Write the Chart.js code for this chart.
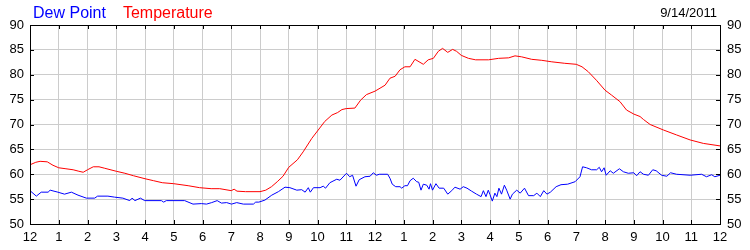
<!DOCTYPE html>
<html>
<head>
<meta charset="utf-8">
<script src="https://cdn.jsdelivr.net/npm/chart.js@4/dist/chart.umd.min.js"></script>
<style>
  html, body { margin: 0; padding: 0; background: #fff; }
  #wrap { width: 750px; height: 250px; }
</style>
</head>
<body>
<div id="wrap"><canvas id="myChart" width="750" height="250"></canvas></div>
<script>
var chartDate = '9/14/2011';
var hourLabels = ['12','1','2','3','4','5','6','7','8','9','10','11','12','1','2','3','4','5','6','7','8','9','10','11','12'];
var yTicks = [50, 55, 60, 65, 70, 75, 80, 85, 90];

var tempHours = [0, 0.2, 0.35, 0.6, 0.8, 1.0, 1.25, 1.5, 1.7, 1.85, 2.0, 2.2, 2.4, 2.6, 3.0, 3.3, 3.6, 4.0, 4.3, 4.6,
    5.0, 5.5, 5.9, 6.3, 6.6, 7.0, 7.1, 7.2, 7.5, 8.0, 8.2, 8.4, 8.6, 8.8, 9.0, 9.3, 9.5, 9.8, 10.0, 10.25,
    10.5, 10.7, 10.85, 11.0, 11.3, 11.5, 11.7, 12.0, 12.35, 12.52, 12.7, 12.87, 13.04, 13.22, 13.39, 13.68, 13.85, 14.03, 14.2, 14.35,
    14.53, 14.7, 14.84, 15.0, 15.25, 15.5, 15.95, 16.3, 16.65, 16.87, 17.1, 17.45, 17.8, 18.15, 18.6, 19.0, 19.2, 19.42, 19.7, 20.0,
    20.23, 20.52, 20.75, 21.0, 21.22, 21.34, 21.57, 22.03, 22.49, 22.96, 23.42, 24];
var tempValues = [61.9, 62.4, 62.6, 62.5, 61.8, 61.3, 61.1, 60.9, 60.6, 60.4, 60.9, 61.5, 61.5, 61.2, 60.6, 60.2, 59.7, 59.1, 58.7, 58.3,
    58.1, 57.7, 57.3, 57.1, 57.1, 56.7, 57.0, 56.6, 56.5, 56.5, 56.8, 57.5, 58.5, 59.6, 61.4, 62.9, 64.5, 67.2, 68.7, 70.6,
    71.9, 72.4, 73.0, 73.2, 73.3, 74.9, 76.0, 76.7, 77.9, 79.3, 79.7, 81.0, 81.6, 81.6, 83.1, 82.1, 83.0, 83.3, 84.7, 85.3,
    84.5, 85.1, 84.7, 83.9, 83.3, 83.0, 83.0, 83.3, 83.4, 83.8, 83.6, 83.1, 82.9, 82.6, 82.3, 82.1, 81.6, 80.6, 78.9, 76.9,
    75.9, 74.6, 72.9, 72.1, 71.6, 71.0, 70.0, 68.9, 67.9, 66.9, 66.2, 65.7];

var dewHours = [0, 0.22, 0.39, 0.63, 0.7, 0.97, 1.2, 1.44, 1.67, 1.96, 2.25, 2.35, 2.71, 2.94, 3.23, 3.47, 3.55, 3.65, 3.84, 3.99,
    4.57, 4.65, 4.74, 5.38, 5.67, 5.96, 6.14, 6.32, 6.51, 6.66, 6.84, 7.01, 7.19, 7.42, 7.77, 7.85, 7.96, 8.17, 8.41, 8.64,
    8.87, 9.04, 9.28, 9.45, 9.57, 9.68, 9.75, 9.86, 10.09, 10.2, 10.28, 10.43, 10.67, 10.78, 11.01, 11.12, 11.22, 11.34, 11.45, 11.65,
    11.83, 11.94, 12.05, 12.15, 12.44, 12.52, 12.6, 12.72, 12.87, 12.93, 13.04, 13.13, 13.22, 13.33, 13.45, 13.52, 13.6, 13.68, 13.8, 13.88,
    13.93, 14.0, 14.12, 14.23, 14.39, 14.53, 14.67, 14.78, 14.96, 15.07, 15.2, 15.36, 15.53, 15.69, 15.77, 15.86, 15.94, 16.0, 16.08, 16.17,
    16.24, 16.31, 16.4, 16.5, 16.58, 16.7, 16.78, 16.93, 17.05, 17.2, 17.34, 17.52, 17.63, 17.75, 17.87, 17.98, 18.1, 18.3, 18.47, 18.7,
    18.96, 19.13, 19.22, 19.36, 19.53, 19.71, 19.8, 19.88, 19.97, 20.04, 20.18, 20.29, 20.5, 20.64, 20.81, 21.0, 21.1, 21.22, 21.34, 21.51,
    21.66, 21.78, 21.97, 22.15, 22.28, 22.49, 22.96, 23.36, 23.53, 23.71, 23.82, 24];
var dewValues = [56.7, 55.6, 56.4, 56.4, 56.8, 56.4, 56.0, 56.4, 55.8, 55.2, 55.2, 55.6, 55.6, 55.4, 55.2, 54.7, 55.2, 54.7, 55.2, 54.7,
    54.7, 54.4, 54.7, 54.7, 54.0, 54.1, 54.0, 54.3, 54.7, 54.2, 54.3, 54.0, 54.3, 54.0, 54.0, 54.4, 54.4, 54.8, 55.8, 56.5,
    57.4, 57.3, 56.8, 56.9, 56.4, 57.3, 56.4, 57.3, 57.3, 57.6, 57.2, 58.3, 59.0, 58.8, 60.2, 59.5, 59.8, 57.6, 58.9, 59.5,
    59.6, 60.3, 59.8, 60.0, 60.0, 59.2, 58.0, 57.5, 57.5, 57.2, 57.7, 57.7, 58.7, 59.2, 58.5, 58.4, 56.8, 58.0, 57.8, 57.0,
    58.1, 56.8, 58.1, 57.2, 57.2, 56.0, 56.7, 57.4, 57.0, 57.5, 57.2, 56.6, 56.0, 55.5, 56.7, 55.5, 56.8, 55.9, 54.6, 56.2,
    55.5, 57.2, 56.0, 57.8, 56.8, 55.0, 56.0, 56.8, 56.2, 57.2, 55.7, 55.7, 56.2, 55.5, 56.7, 56.0, 56.4, 57.5, 57.9, 58.0,
    58.5, 59.5, 61.5, 61.3, 60.9, 60.9, 61.4, 60.5, 61.3, 59.8, 60.7, 60.2, 61.1, 60.5, 60.2, 60.3, 59.7, 60.5, 60.0, 59.8,
    60.9, 60.7, 59.8, 59.6, 60.3, 60.0, 59.8, 60.0, 59.5, 59.9, 59.5, 59.8];

function pontos(xs, ys){
    var out = [];
    for (var i = 0; i < xs.length; i++) {
        out.push({x: xs[i], y: ys[i]});
    }
    return out;
}

var fonte = 'Liberation Sans, Arial, sans-serif';

// moldura preta com tracinhos para dentro, legenda e data
var moldura = {
    id: 'moldura',
    afterDraw: function(chart){
        var ctx = chart.ctx;
        var a = chart.chartArea;
        var sx = chart.scales.x;
        var sy = chart.scales.y;
        var tl = 4;
        ctx.save();
        ctx.strokeStyle = '#000';
        ctx.lineWidth = 1;
        ctx.beginPath();
        sx.ticks.forEach(function(t){
            var px = Math.round(sx.getPixelForValue(t.value)) + 0.5;
            ctx.moveTo(px, a.top); ctx.lineTo(px, a.top + tl);
            ctx.moveTo(px, a.bottom); ctx.lineTo(px, a.bottom - tl);
        });
        sy.ticks.forEach(function(t){
            var py = Math.round(sy.getPixelForValue(t.value)) + 0.5;
            ctx.moveTo(a.left, py); ctx.lineTo(a.left + tl, py);
            ctx.moveTo(a.right, py); ctx.lineTo(a.right - tl, py);
        });
        ctx.stroke();
        ctx.strokeRect(Math.round(a.left) + 0.5, Math.round(a.top) + 0.5, Math.round(a.right - a.left), Math.round(a.bottom - a.top));

        ctx.font = '16px ' + fonte;
        ctx.textBaseline = 'alphabetic';
        ctx.textAlign = 'left';
        var lx = 33;
        chart.data.datasets.forEach(function(ds){
            ctx.fillStyle = ds.borderColor;
            ctx.fillText(ds.label, lx, 18);
            lx += ctx.measureText(ds.label).width + 17;
        });
        ctx.font = '13px ' + fonte;
        ctx.fillStyle = '#000';
        ctx.textAlign = 'right';
        ctx.fillText(chartDate, 717, 17);
        ctx.restore();
    }
};

function grafico(){
    var ctx = document.getElementById('myChart');
    var myChart = new Chart(ctx, {
        type: 'line',
        data: {
            datasets: [{
                label: 'Dew Point',
                data: pontos(dewHours, dewValues),
                borderColor: '#0000ff',
                borderWidth: 1,
                pointRadius: 0,
                tension: 0,
                yAxisID: 'y'
            }, {
                label: 'Temperature',
                data: pontos(tempHours, tempValues),
                borderColor: '#ff0000',
                borderWidth: 1,
                pointRadius: 0,
                tension: 0,
                yAxisID: 'y'
            }]
        },
        plugins: [moldura],
        options: {
            responsive: false,
            animation: false,
            layout: { padding: { top: 25 } },
            plugins: { legend: { display: false }, tooltip: { enabled: false } },
            scales: {
                x: {
                    type: 'linear',
                    min: 0,
                    max: 24,
                    afterFit: function(s){ s.height = 26; },
                    afterBuildTicks: function(s){
                        s.ticks = hourLabels.map(function(l, i){ return {value: i}; });
                    },
                    ticks: {
                        autoSkip: false,
                        maxRotation: 0,
                        padding: 6,
                        color: '#000',
                        font: { family: fonte, size: 13 },
                        callback: function(v, i){ return hourLabels[i]; }
                    },
                    grid: { color: '#cccccc', drawTicks: false },
                    border: { color: '#000' }
                },
                y: {
                    position: 'left',
                    min: 50,
                    max: 90,
                    afterFit: function(s){ s.width = 30; },
                    afterBuildTicks: function(s){
                        s.ticks = yTicks.map(function(v){ return {value: v}; });
                    },
                    ticks: { padding: 6, color: '#000', font: { family: fonte, size: 13 } },
                    grid: { color: '#cccccc', drawTicks: false },
                    border: { color: '#000' }
                },
                y2: {
                    position: 'right',
                    min: 50,
                    max: 90,
                    afterFit: function(s){ s.width = 30; },
                    afterBuildTicks: function(s){
                        s.ticks = yTicks.map(function(v){ return {value: v}; });
                    },
                    ticks: { padding: 7, color: '#000', font: { family: fonte, size: 13 } },
                    grid: { display: false, drawTicks: false },
                    border: { color: '#000' }
                }
            }
        }
    });
}

grafico();
</script>
</body>
</html>
